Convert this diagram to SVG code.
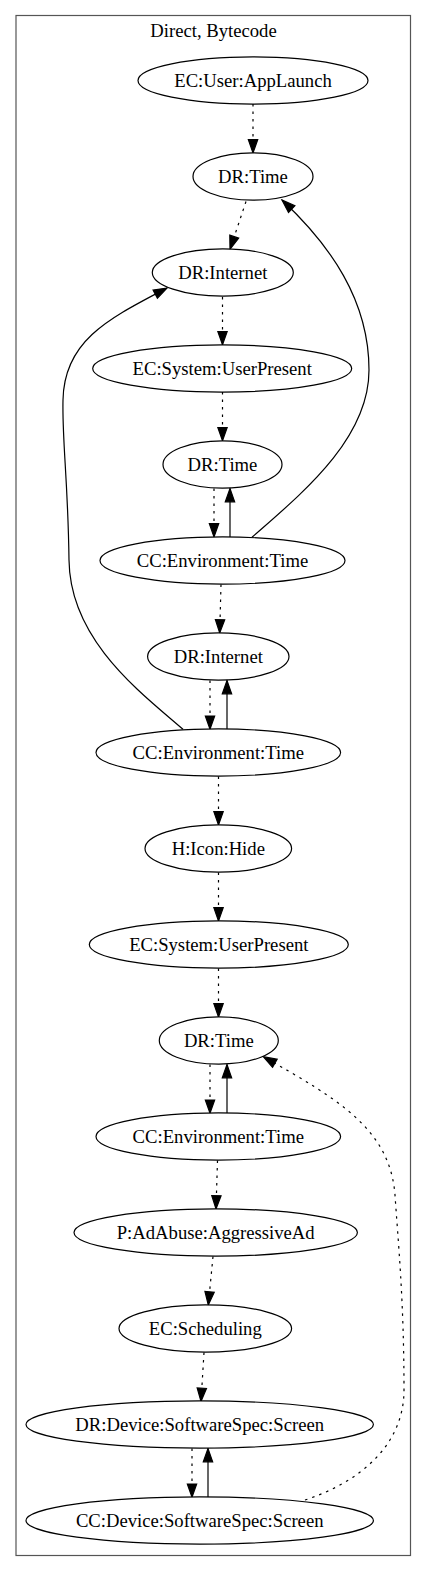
<svg xmlns="http://www.w3.org/2000/svg" width="427" height="1572" viewBox="0 0 427 1572">
<style>
.n ellipse{fill:#fff;stroke:#000;stroke-width:1.2}
.n text,.t{font-family:"Liberation Serif","Times New Roman",serif;font-size:18.67px;text-anchor:middle;fill:#000}
.e path{fill:none;stroke:#000;stroke-width:1.2;marker-end:url(#ah)}
.e path.d{stroke-dasharray:2.5,5}
</style>
<defs>
<marker id="ah" markerUnits="userSpaceOnUse" markerWidth="16" markerHeight="12" refX="13.3" refY="4.67" orient="auto" overflow="visible">
<path d="M0,0 L13.3,4.67 L0,9.33 Z" fill="#000" stroke="#000" stroke-width="1.2"/>
</marker>
</defs>
<rect width="427" height="1572" fill="#fff"/>
<g id="cluster">
<rect x="16" y="15.5" width="394.5" height="1540" fill="none" stroke="#555" stroke-width="1.2"/>
<text class="t" x="213.5" y="36.5">Direct, Bytecode</text>
</g>
<g class="e" id="edges">
<path class="d" d="M253,104 L253,153"/>
<path class="d" d="M246,201.5 L230,249.3"/>
<path class="d" d="M222.5,297 L222.5,344.8"/>
<path class="d" d="M222.5,392 L222.5,440.8"/>
<path class="d" d="M214,488.5 L214,537"/>
<path d="M230,537 L230,488.5"/>
<path d="M252,537.3 C300,495 369,440 369,370 C369,300 330,245 282,200"/>
<path d="M183,729.3 C140,692 70,640 69,560 C68,480 62,440 63,400 C64,340 110,318 167,288"/>
<path class="d" d="M221,584.5 L219.7,633"/>
<path class="d" d="M210,680.5 L210,729.3"/>
<path d="M227,729.3 L227,680.5"/>
<path class="d" d="M218.5,776.5 L218.5,825"/>
<path class="d" d="M218.5,872.5 L218.5,921"/>
<path class="d" d="M218.5,968.5 L218.5,1017"/>
<path class="d" d="M210,1064.5 L210,1113.3"/>
<path d="M227,1113.3 L227,1064.5"/>
<path class="d" d="M217.5,1160.5 L216,1209"/>
<path class="d" d="M213,1256.5 L208.3,1305"/>
<path class="d" d="M204,1352.5 L201,1401.5"/>
<path class="d" d="M192,1448.5 L192,1497.3"/>
<path d="M208,1497.3 L208,1448.5"/>
<path class="d" d="M305,1500 C360,1482 404,1445 404,1390 C404,1300 398,1240 395,1195 C390,1130 340,1100 263.3,1056.7"/>
</g>
<g class="n" id="n1"><ellipse cx="253" cy="80.5" rx="115" ry="23.6"/><text x="253" y="86.5">EC:User:AppLaunch</text></g>
<g class="n" id="n2"><ellipse cx="253" cy="176.5" rx="60" ry="23.6"/><text x="253" y="182.5">DR:Time</text></g>
<g class="n" id="n3"><ellipse cx="222.8" cy="272.5" rx="70.5" ry="23.6"/><text x="222.8" y="278.5">DR:Internet</text></g>
<g class="n" id="n4"><ellipse cx="222.2" cy="368.5" rx="129.5" ry="23.6"/><text x="222.2" y="374.5">EC:System:UserPresent</text></g>
<g class="n" id="n5"><ellipse cx="222.5" cy="464.5" rx="59.5" ry="23.6"/><text x="222.5" y="470.5">DR:Time</text></g>
<g class="n" id="n6"><ellipse cx="222.5" cy="560.5" rx="122.5" ry="23.6"/><text x="222.5" y="566.5">CC:Environment:Time</text></g>
<g class="n" id="n7"><ellipse cx="218.3" cy="656.5" rx="70.7" ry="23.6"/><text x="218.3" y="662.5">DR:Internet</text></g>
<g class="n" id="n8"><ellipse cx="218.3" cy="752.5" rx="122.3" ry="23.6"/><text x="218.3" y="758.5">CC:Environment:Time</text></g>
<g class="n" id="n9"><ellipse cx="218.3" cy="848.5" rx="73.3" ry="23.6"/><text x="218.3" y="854.5">H:Icon:Hide</text></g>
<g class="n" id="n10"><ellipse cx="218.8" cy="944.5" rx="129.5" ry="23.6"/><text x="218.8" y="950.5">EC:System:UserPresent</text></g>
<g class="n" id="n11"><ellipse cx="218.8" cy="1040.5" rx="59.5" ry="23.6"/><text x="218.8" y="1046.5">DR:Time</text></g>
<g class="n" id="n12"><ellipse cx="218.3" cy="1136.5" rx="122.3" ry="23.6"/><text x="218.3" y="1142.5">CC:Environment:Time</text></g>
<g class="n" id="n13"><ellipse cx="215.7" cy="1232.5" rx="141.7" ry="23.6"/><text x="215.7" y="1238.5">P:AdAbuse:AggressiveAd</text></g>
<g class="n" id="n14"><ellipse cx="205.3" cy="1328.5" rx="86.3" ry="23.6"/><text x="205.3" y="1334.5">EC:Scheduling</text></g>
<g class="n" id="n15"><ellipse cx="199.7" cy="1424.5" rx="173.7" ry="23.6"/><text x="199.7" y="1430.5">DR:Device:SoftwareSpec:Screen</text></g>
<g class="n" id="n16"><ellipse cx="199.7" cy="1520.5" rx="173.7" ry="23.6"/><text x="199.7" y="1526.5">CC:Device:SoftwareSpec:Screen</text></g>
</svg>
